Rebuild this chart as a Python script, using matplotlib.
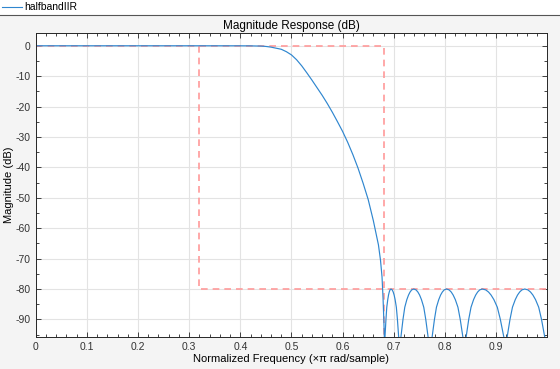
import numpy as np
import matplotlib
matplotlib.use("Agg")
import matplotlib.pyplot as plt
from matplotlib.ticker import MultipleLocator
from matplotlib.lines import Line2D

plt.rcParams['font.family'] = ['Liberation Sans', 'DejaVu Sans']
plt.rcParams['axes.unicode_minus'] = False

# magnitude response (normalized freq, dB)
# passband + transition band
freq_tr = [0.000, 0.300, 0.400, 0.420, 0.440, 0.450, 0.460, 0.470, 0.480, 0.490,
           0.500, 0.510, 0.520, 0.530, 0.540, 0.550, 0.560, 0.570, 0.580, 0.590,
           0.600, 0.610, 0.620, 0.630, 0.640, 0.650, 0.660, 0.665, 0.670, 0.674,
           0.677, 0.679, 0.6805, 0.6815, 0.6822]
db_tr = [0.0, 0.0, -0.01, -0.03, -0.10, -0.22, -0.45, -0.80, -1.15, -1.95,
         -3.01, -4.6, -6.6, -8.9, -11.3, -13.8, -16.3, -19.0, -21.9, -25.0,
         -28.2, -31.8, -35.8, -40.2, -45.2, -50.6, -57.5, -61.5, -65.5, -70.5,
         -76.0, -83.0, -90.0, -95.7, -110.0]

# stopband lobes (equiripple at -80 dB)
freq_sb = [0.6828, 0.6847, 0.6863, 0.6882, 0.6897, 0.6911, 0.6926, 0.6945,
           0.6969, 0.6989, 0.7007, 0.7026, 0.7050, 0.7071, 0.7095, 0.7118,
           0.7140, 0.7180, 0.7215, 0.7255, 0.7288, 0.7318, 0.7350, 0.7390,
           0.7435, 0.7471, 0.7505, 0.7541, 0.7586, 0.7625, 0.7670, 0.7695,
           0.7750, 0.7795, 0.7834, 0.7879, 0.7915, 0.7949, 0.7985, 0.8030,
           0.8081, 0.8123, 0.8161, 0.8203, 0.8254, 0.8299, 0.8350, 0.8380,
           0.8415, 0.8465, 0.8510, 0.8560, 0.8601, 0.8639, 0.8680, 0.8730,
           0.8797, 0.8852, 0.8902, 0.8957, 0.9024, 0.9083, 0.9150, 0.9180,
           0.9217, 0.9272, 0.9320, 0.9375, 0.9419, 0.9461, 0.9505, 0.9560,
           0.9622, 0.9673, 0.9720, 0.9771, 0.9833, 0.9888, 0.9950, 1.0000]
lobe_db = [-95.7, -90.0, -86.0, -83.5, -82.0, -81.0, -80.3, -80.0,
           -80.3, -81.0, -82.0, -83.5, -86.0, -90.0, -95.7, -110.0]
db_sb = lobe_db * 5

freq = freq_tr + freq_sb
mag_db = db_tr + db_sb

# design mask
f_pass = 0.32
f_stop = 0.68
a_stop = -80
mask_top_x = [0, f_stop, f_stop]
mask_top_y = [0, 0, -110]
mask_bot_x = [f_pass, f_pass, 1.0]
mask_bot_y = [0, a_stop, a_stop]

fig = plt.figure(figsize=(5.6, 3.69), dpi=100, facecolor='#f4f4f4')

# legend strip across the top
fig.patches.append(plt.Rectangle((0, 0.96), 1, 0.04, transform=fig.transFigure,
                                 facecolor='white', edgecolor='none', zorder=0))
fig.add_artist(Line2D([0, 1], [0.96, 0.96], transform=fig.transFigure,
                      color='#555555', lw=0.8))
fig.add_artist(Line2D([0.004, 0.04], [0.981, 0.981], transform=fig.transFigure,
                      color='#2f86cf', lw=0.8))
fig.text(0.043, 0.981, 'halfbandIIR', fontsize=7.5, va='center', ha='left')

ax = fig.add_axes([0.0638, 0.0875, 0.9125, 0.8239])
ax.set_facecolor('white')
ax.plot(mask_top_x, mask_top_y, ls=(0, (4, 3)), color='#ff9a9a', lw=1.2)
ax.plot(mask_bot_x, mask_bot_y, ls=(0, (4, 3)), color='#ff9a9a', lw=1.2)
ax.plot(freq, mag_db, color='#2f86cf', lw=0.85)

ax.set_xlim(0, 0.999)
ax.set_ylim(-95.7, 4.3)
ax.set_xticks(np.arange(0, 0.95, 0.1))
ax.set_xticklabels(['0', '0.1', '0.2', '0.3', '0.4', '0.5', '0.6', '0.7', '0.8', '0.9'])
ax.set_yticks(np.arange(-90, 1, 10))
ax.xaxis.set_minor_locator(MultipleLocator(0.02))
ax.yaxis.set_minor_locator(MultipleLocator(5))
ax.tick_params(which='both', direction='in', top=True, right=True,
               labelsize=7.5, colors='#262626', labelcolor='#333333', width=0.6)
ax.tick_params(which='major', length=3.5)
ax.tick_params(which='minor', length=2)
ax.grid(True, which='major', color='#e3e3e3', lw=0.8)
ax.set_axisbelow(True)
for s in ax.spines.values():
    s.set_color('#262626')
    s.set_linewidth(0.7)

ax.set_title('Magnitude Response (dB)', fontsize=8.5, pad=3)
ax.set_xlabel('Normalized Frequency (\u00d7\u03c0 rad/sample)', fontsize=8, labelpad=2)
ax.set_ylabel('Magnitude (dB)', fontsize=8)
ax.yaxis.set_label_coords(-0.043, 0.5)

fig.savefig('out.png', dpi=100, facecolor=fig.get_facecolor())
